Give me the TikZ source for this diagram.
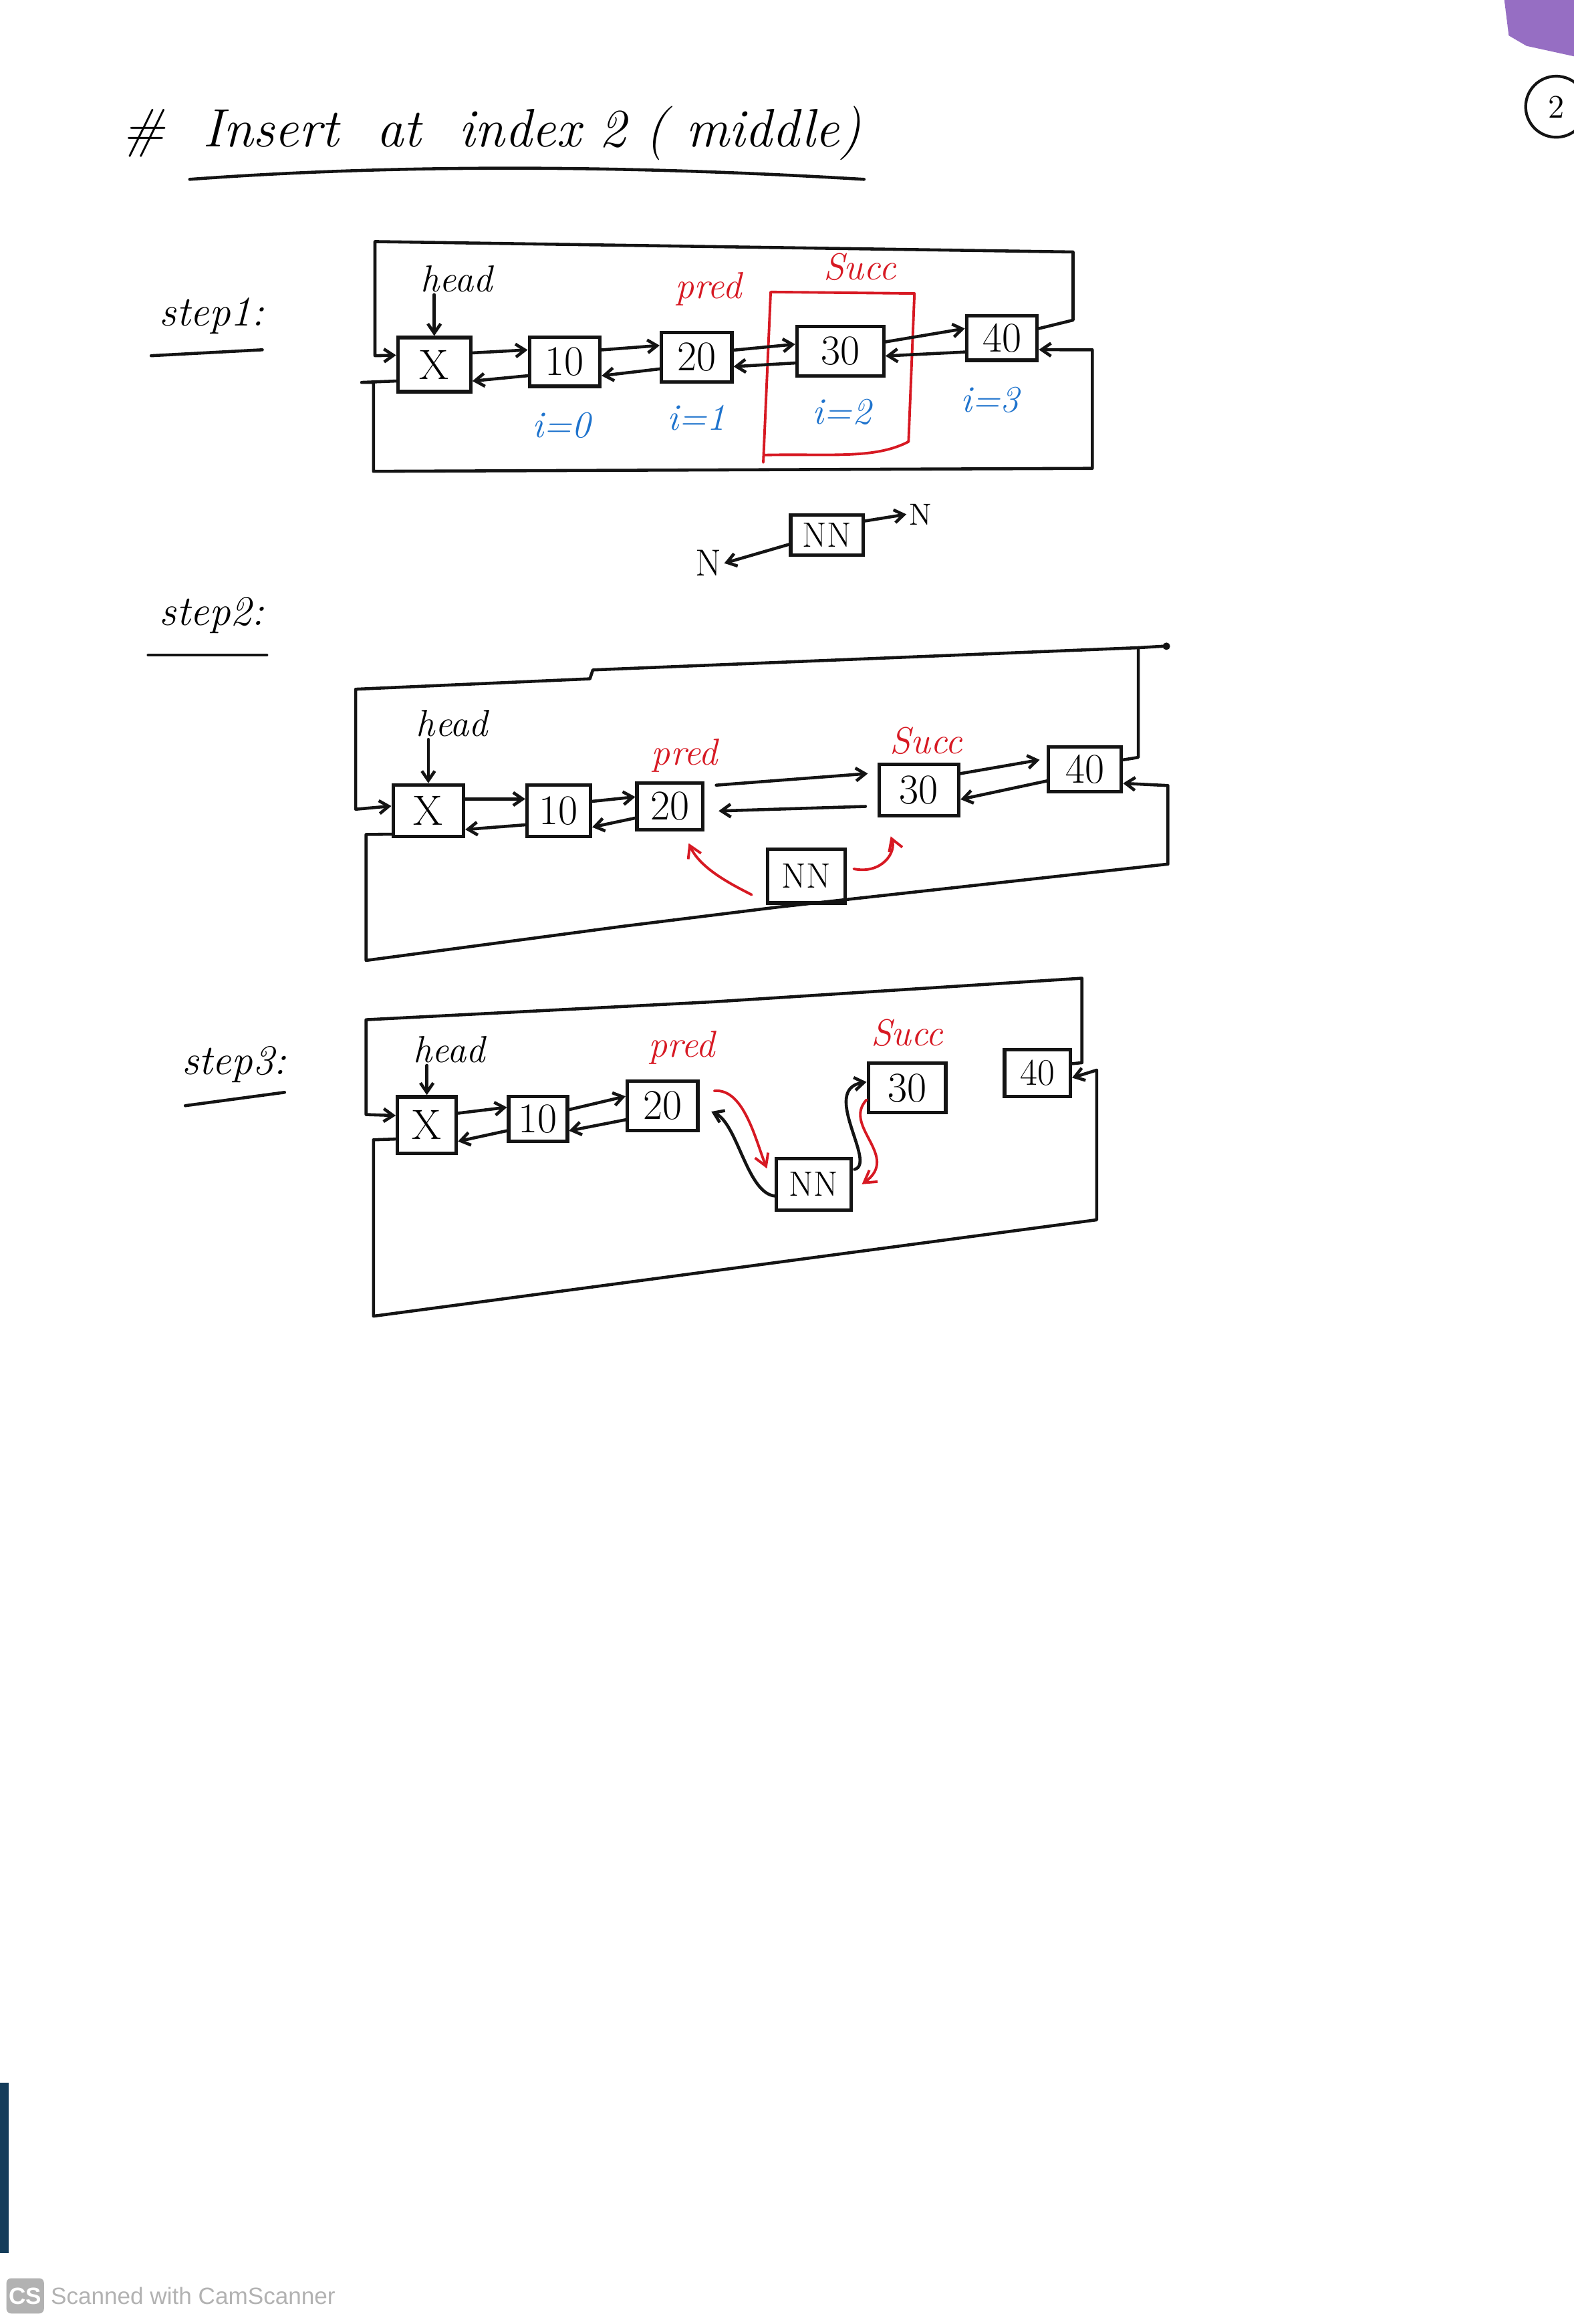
\documentclass[tikz,border=0pt]{standalone}
\usepackage{fontspec}
\newfontfamily\csfont{Liberation Sans}
\usetikzlibrary{arrows.meta,calc}
\definecolor{inkred}{RGB}{215,25,35}
\definecolor{inkblue}{RGB}{30,115,205}
\definecolor{ink}{RGB}{20,20,20}
\definecolor{scangray}{RGB}{178,178,178}
\definecolor{tabpurple}{RGB}{150,110,195}
\definecolor{edgeblue}{RGB}{20,60,90}
\tikzset{
 ln/.style={draw=ink, line width=1.3pt, line cap=round, line join=round},
 arr/.style={ln, -{Straight Barb[length=4pt,width=5.5pt]}},
 rln/.style={draw=inkred, line width=1.1pt, line cap=round, line join=round},
 rarr/.style={rln, -{Straight Barb[length=5pt,width=6pt]}},
 box/.style={draw=ink, line width=1.5pt, minimum width=30pt, minimum height=21pt, inner sep=0pt, font=\fontsize{18}{20}\selectfont},
 lbl/.style={font=\fontsize{16}{18}\selectfont\itshape, inner sep=1pt},
 redlbl/.style={lbl, text=inkred},
 idx/.style={lbl, text=inkblue},
 steplbl/.style={font=\fontsize{18}{20}\selectfont\itshape, inner sep=1pt},
}
\begin{document}
\begin{tikzpicture}[x=0.022185cm, y=-0.022185cm]
\useasboundingbox (0,0) rectangle (1062,1568);
\fill[white] (0,0) rectangle (1062,1568);

% scan artefacts
\fill[tabpurple] (1015,0) -- (1062,0) -- (1062,38) -- (1030,31) -- (1018,24) -- cycle;
\node[draw=ink, line width=1.2pt, circle, minimum size=26pt, inner sep=0pt, font=\fontsize{14}{16}\selectfont] (pg) at (1050,72) {2};
\fill[edgeblue] (0,1405) rectangle (6,1520);

% title
\node[anchor=west, font=\fontsize{23}{27}\selectfont\itshape, inner sep=0pt] (title) at (82,90) {\#\ \ Insert\ \ at\ \ index\ 2 ( middle)};
\draw[ln] (128,121) .. controls (250,112) and (400,110) .. (583,121);

% ================= STEP 1 =================
\node[steplbl] (s1) at (143,213) {step1:};
\draw[ln] (102,240) -- (177,236);

\node[box, minimum width=31pt, minimum height=23pt] (a1) at (293,246) {X};
\node[box] (b1) at (381,244) {10};
\node[box] (c1) at (470,241) {20};
\node[box, minimum width=37pt] (d1) at (567,237) {30};
\node[box, minimum height=19pt] (e1) at (676,228) {40};

\node[lbl] (h1) at (308,188) {head};
\draw[arr] (a1.north |- h1.south) -- (a1.north);
\node[redlbl] (p1) at (478,195) {pred};
\node[redlbl] (sc1) at (580,180) {Succ};

\node[idx] (i0) at (379,287) {i=0};
\node[idx] (i1) at (470,282) {i=1};
\node[idx] (i2) at (568,278) {i=2};
\node[idx] (i3) at (668,270) {i=3};

% red frame round succ
\draw[rln] (515,312) -- (520,197) -- (617,198) -- (613,298) .. controls (590,310) and (560,306) .. (516,307);

% links
\draw[arr] ([yshift=5pt]a1.east) -- ([yshift=5pt]b1.west);
\draw[arr] ([yshift=-6pt]b1.west) -- ([yshift=-7pt]a1.east);
\draw[arr] ([yshift=5pt]b1.east) -- ([yshift=5pt]c1.west);
\draw[arr] ([yshift=-5pt]c1.west) -- ([yshift=-6pt]b1.east);
\draw[arr] ([yshift=3pt]c1.east) -- ([yshift=3pt]d1.west);
\draw[arr] ([yshift=-5pt]d1.west) -- ([yshift=-4pt]c1.east);
\draw[arr] ([yshift=4pt]d1.east) -- ([yshift=4pt]e1.west);
\draw[arr] ([yshift=-6pt]e1.west) -- ([yshift=-2pt]d1.east);

% circular links
\draw[arr] ([yshift=4pt]e1.east) -- (724,216) -- (724,170) -- (253,163) -- (253,240) -- ([yshift=4pt]a1.west);
\draw[arr] ([yshift=-7pt]a1.west) -- (244,258) -- (252,258) -- (252,318) -- (737,316) -- (737,236) -- ([yshift=-5pt]e1.east);

% new node
\node[box, minimum width=31pt, minimum height=17pt, font=\fontsize{15}{17}\selectfont] (n0) at (558,361) {NN};
\node[lbl, font=\fontsize{16}{18}\selectfont] (nl) at (478,380) {N};
\node[lbl, font=\fontsize{13}{15}\selectfont] (nr) at (621,347) {N};
\draw[arr] ([yshift=-4pt]n0.west) -- (nl.east);
\draw[arr] ([yshift=6pt]n0.east) -- (nr.west);

% ================= STEP 2 =================
\node[steplbl] (s2) at (143,415) {step2:};
\draw[ln] (100,442) -- (180,442);

\node[box, minimum width=30pt, minimum height=22pt] (a2) at (289,547) {X};
\node[box, minimum width=27pt, minimum height=22pt] (b2) at (377,547) {10};
\node[box, minimum width=28pt, minimum height=20pt] (c2) at (452,544) {20};
\node[box, minimum width=34pt, minimum height=22pt] (d2) at (620,533) {30};
\node[box, minimum width=31pt, minimum height=19pt] (e2) at (732,519) {40};
\node[box, minimum width=33pt, minimum height=23pt, font=\fontsize{15}{17}\selectfont] (nn2) at (544,591) {NN};

\node[lbl] (h2) at (305,488) {head};
\draw[arr] (a2.north |- h2.south) -- (a2.north);
\node[redlbl] (p2) at (462,510) {pred};
\node[redlbl] (sc2) at (625,500) {Succ};

\draw[arr] ([yshift=5pt]a2.east) -- ([yshift=5pt]b2.west);
\draw[arr] ([yshift=-6pt]b2.west) -- ([yshift=-8pt]a2.east);
\draw[arr] ([yshift=4pt]b2.east) -- ([yshift=4pt]c2.west);
\draw[arr] ([yshift=-5pt]c2.west) -- ([yshift=-7pt]b2.east);
\draw[arr] ([xshift=5pt,yshift=9pt]c2.east) -- ([xshift=-4pt,yshift=7pt]d2.west);
\draw[arr] ([xshift=-5pt,yshift=-7pt]d2.west) -- ([xshift=6pt,yshift=-2pt]c2.east);
\draw[arr] ([yshift=7pt]d2.east) -- ([xshift=-3pt,yshift=4pt]e2.west);
\draw[arr] ([yshift=-5pt]e2.west) -- ([yshift=-4pt]d2.east);

\draw[arr] ([yshift=4pt]e2.east) -- (768,511) -- (768,437) -- (400,452) -- (398,458) -- (240,465) -- (240,546) -- ([yshift=2pt]a2.west);
\draw[ln] (768,437) -- (785,436);
\fill[ink] (787,436) circle (2.5);
\draw[arr] ([yshift=-10pt]a2.west) -- (247,563) -- (247,648) -- (420,625) -- (525,612) -- (788,583) -- (788,530) -- ([yshift=-6pt]e2.east);

\draw[rarr] ([xshift=-6pt,yshift=-8pt]nn2.west) .. controls (490,595) and (472,585) .. ([xshift=8pt,yshift=-5pt]c2.south);
\draw[rarr] ([xshift=3pt,yshift=3pt]nn2.east) .. controls (595,590) and (605,575) .. ([xshift=-12pt,yshift=-8pt]d2.south);

% ================= STEP 3 =================
\node[steplbl] (s3) at (158,718) {step3:};
\draw[ln] (125,746) -- (192,737);

\node[box, minimum width=25pt, minimum height=24pt] (a3) at (288,759) {X};
\node[box, minimum width=25pt, minimum height=19pt] (b3) at (363,755) {10};
\node[box, minimum width=30pt, minimum height=21pt] (c3) at (447,746) {20};
\node[box, minimum width=32pt, minimum height=22pt, font=\fontsize{15}{17}\selectfont] (nn3) at (549,799) {NN};
\node[box, minimum width=33pt, minimum height=21pt] (d3) at (612,734) {30};
\node[box, minimum width=28pt, minimum height=20pt, font=\fontsize{16}{18}\selectfont] (e3) at (700,724) {40};

\node[lbl] (h3) at (303,708) {head};
\draw[arr] (a3.north |- h3.south) -- (a3.north);
\node[redlbl] (p3) at (460,707) {pred};
\node[redlbl] (sc3) at (612,697) {Succ};

\draw[arr] ([yshift=5pt]a3.east) -- ([yshift=5pt]b3.west);
\draw[arr] ([yshift=-5pt]b3.west) -- ([yshift=-7pt]a3.east);
\draw[arr] ([yshift=4pt]b3.east) -- ([yshift=4pt]c3.west);
\draw[arr] ([yshift=-6pt]c3.west) -- ([yshift=-5pt]b3.east);

% re-linking pred / NN / succ
\draw[rarr] ($(c3.east)+(10,-10)$) .. controls (502,734) and (510,770) .. ($(nn3.north west)+(-5,8)$);
\draw[arr] ($(nn3.west)+(1,8)$) .. controls (504,806) and (498,758) .. ($(c3.east)+(8,4)$);
\draw[arr] ($(nn3.east)+(1,-10)$) .. controls (592,785) and (553,735) .. ($(d3.west)+(0,-4)$);
\draw[rarr] ($(d3.west)+(0,8)$) .. controls (568,760) and (608,780) .. ($(nn3.east)+(6,0)$);

% circular links
\draw[arr] ([yshift=4pt]e3.east) -- (730,717) -- (730,660) -- (480,676) -- (247,688) -- (247,752) -- ([yshift=4pt]a3.west);
\draw[arr] ([yshift=-6pt]a3.west) -- (252,769) -- (252,888) -- (740,823) -- (740,722) -- ([yshift=-2pt]e3.east);

% scanner footer
\node[fill=scangray, rounded corners=2pt, minimum width=16pt, minimum height=15pt, inner sep=0pt, text=white, font=\csfont\bfseries\fontsize{10}{10}\selectfont] (cs) at (17,1549) {CS};
\node[anchor=west, text=scangray, font=\csfont\fontsize{10}{12}\selectfont, inner sep=0pt] (cstext) at (34,1549) {Scanned with CamScanner};
\end{tikzpicture}
\end{document}
